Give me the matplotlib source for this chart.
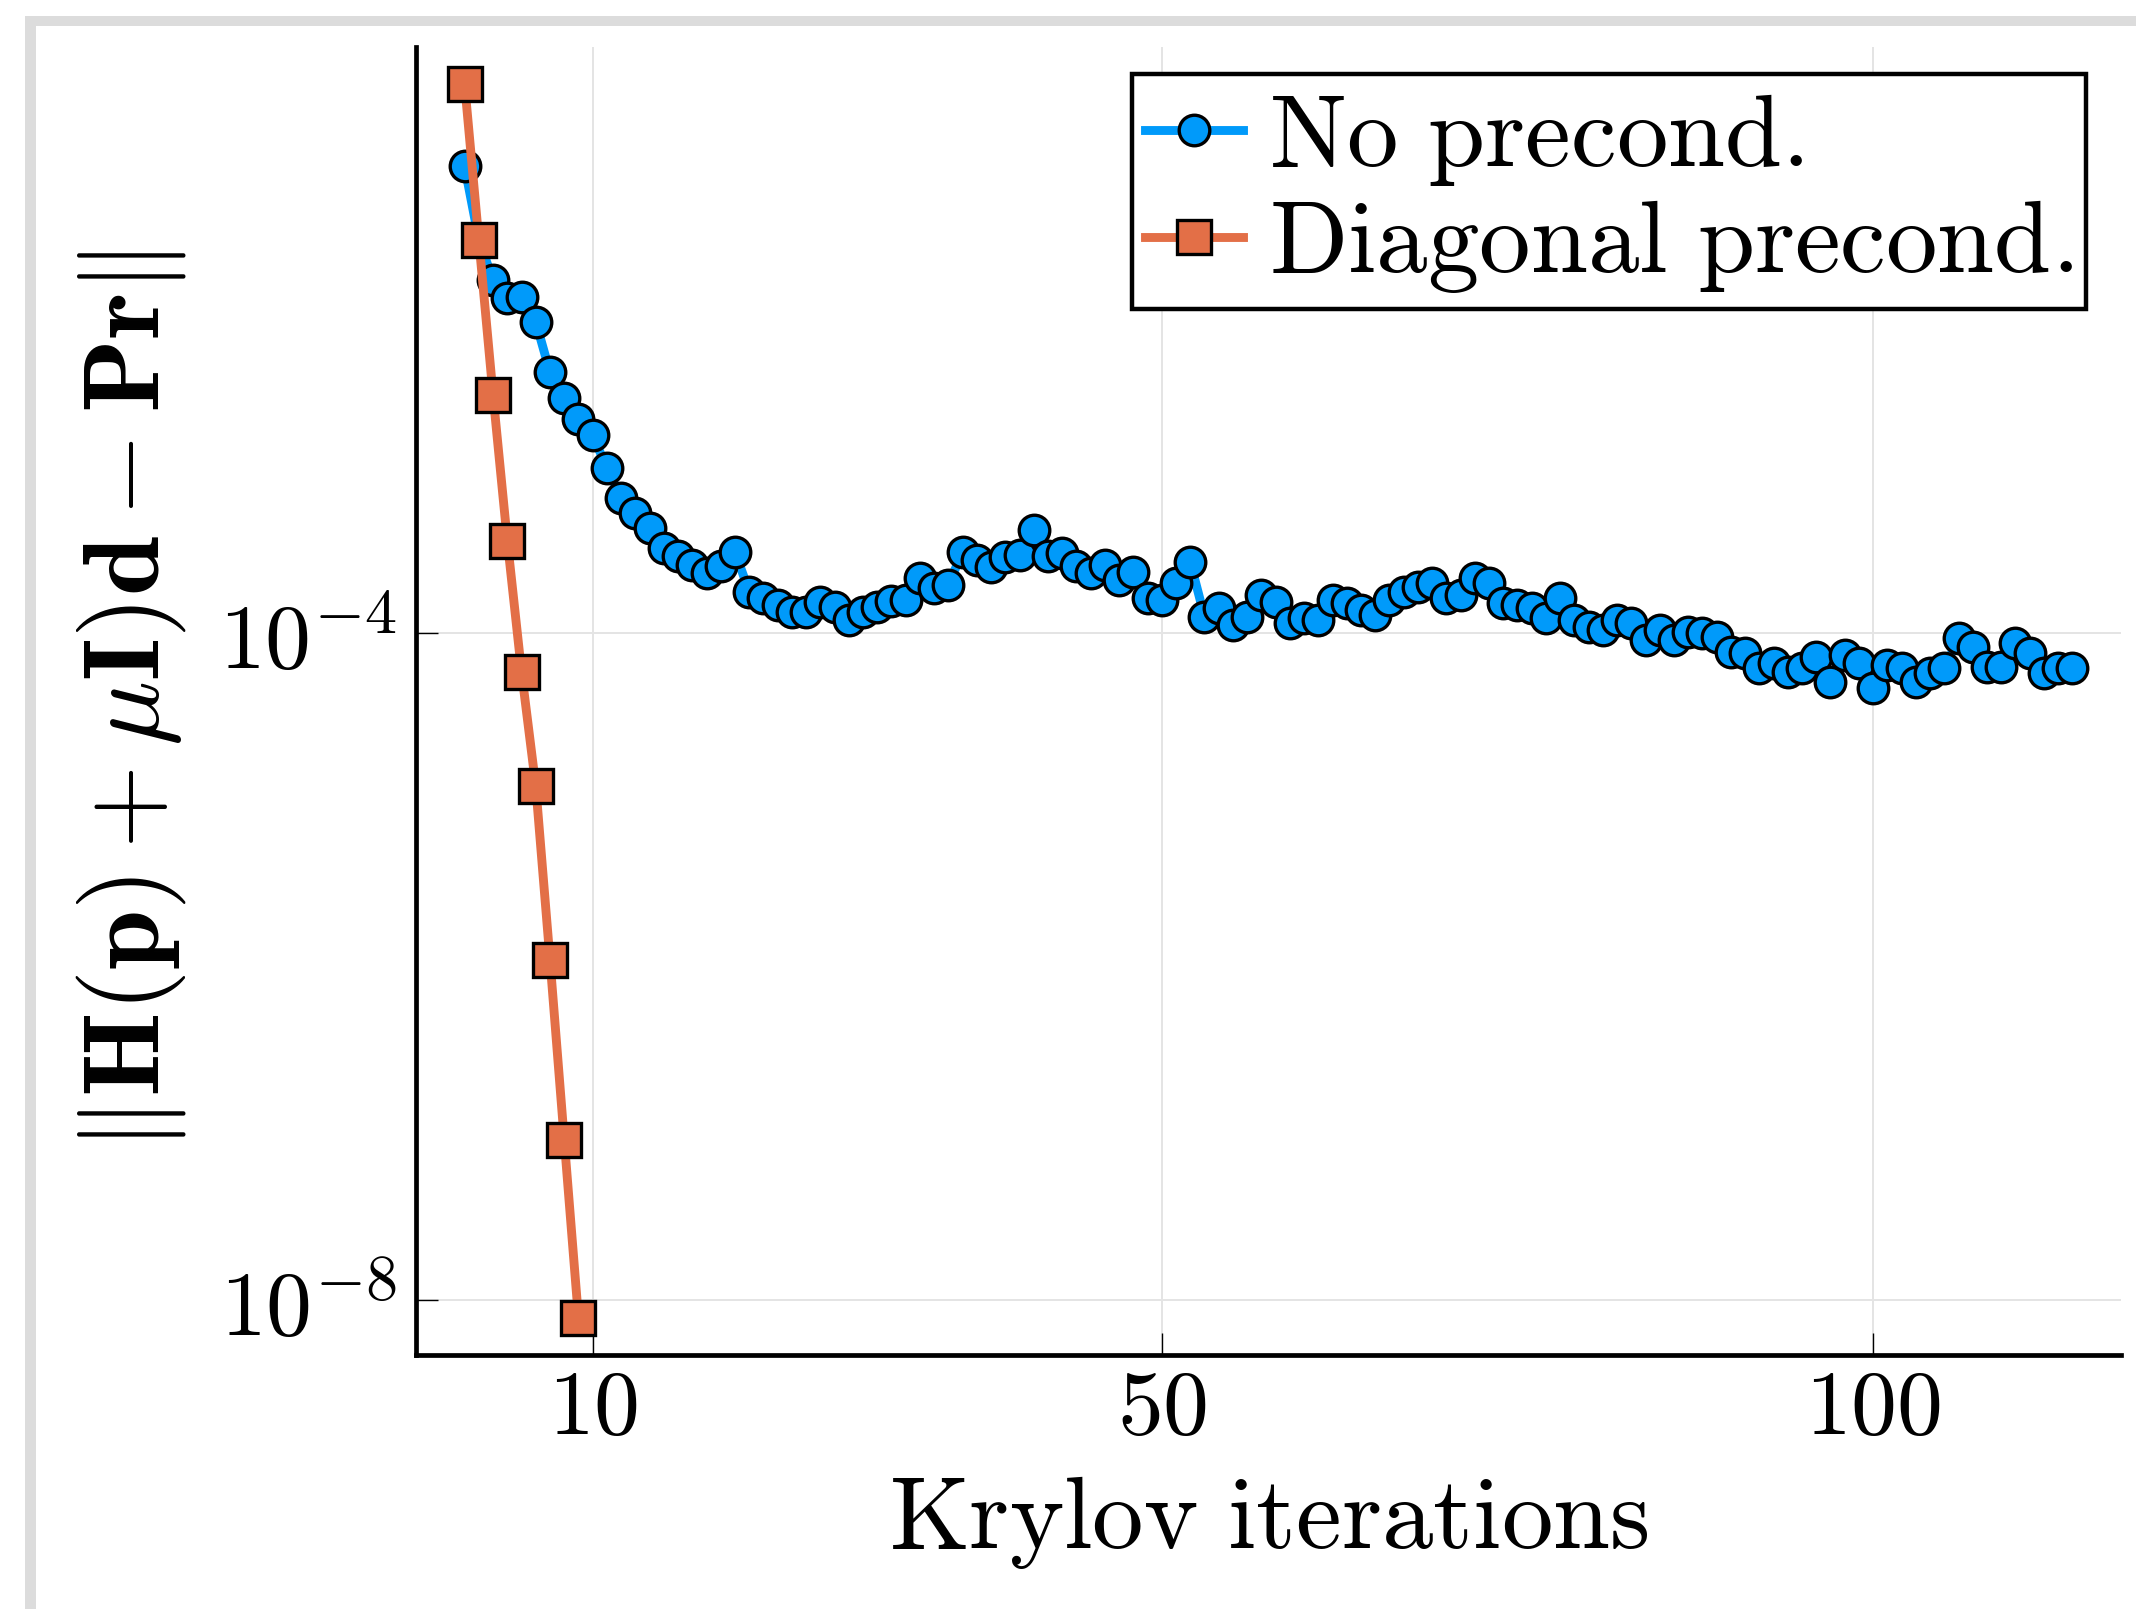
import numpy as np
import matplotlib
matplotlib.use("Agg")
import matplotlib.pyplot as plt
from matplotlib.patches import Rectangle

# residual norms per Krylov iteration, stored as log10 values
no_precond_log10 = [
	-1.198, -1.641, -1.881, -1.991, -1.985, -2.131, -2.435, -2.587, -2.717, -2.813,
	-3.007, -3.187, -3.277, -3.370, -3.490, -3.536, -3.590, -3.640, -3.596, -3.511,
	-3.750, -3.790, -3.830, -3.875, -3.870, -3.810, -3.840, -3.920, -3.870, -3.840,
	-3.804, -3.800, -3.670, -3.730, -3.710, -3.511, -3.560, -3.604, -3.541, -3.530,
	-3.380, -3.536, -3.517, -3.596, -3.640, -3.590, -3.680, -3.631, -3.790, -3.800,
	-3.700, -3.571, -3.900, -3.850, -3.950, -3.900, -3.770, -3.810, -3.940, -3.910,
	-3.920, -3.800, -3.820, -3.860, -3.890, -3.800, -3.750, -3.720, -3.700, -3.790,
	-3.770, -3.670, -3.700, -3.820, -3.830, -3.850, -3.910, -3.790, -3.920, -3.960,
	-3.980, -3.920, -3.940, -4.040, -3.980, -4.040, -3.990, -4.000, -4.020, -4.110,
	-4.120, -4.210, -4.180, -4.230, -4.210, -4.140, -4.290, -4.130, -4.180, -4.330,
	-4.190, -4.210, -4.290, -4.240, -4.210, -4.030, -4.080, -4.200, -4.200, -4.060,
	-4.120, -4.240, -4.210, -4.210,
]
diag_precond_log10 = [-0.705, -1.643, -2.572, -3.444, -4.231, -4.916, -5.959, -7.037, -8.106]

labels = ["No precond.", "Diagonal precond."]
xticks = [10, 50, 100]
yticks = [1e-8, 1e-4]
ytick_labels = [r"$10^{-8}$", r"$10^{-4}$"]

BLUE = "#009AFA"
ORANGE = "#E36F47"

plt.rcParams["mathtext.fontset"] = "cm"

W, H, DPI = 2136, 1609, 200
fig = plt.figure(figsize=(W / DPI, H / DPI), dpi=DPI)

# grey screenshot frame on the left and top
fig.patches.append(Rectangle((24.9 / W, 0), 10.7 / W, 1 - 15.6 / H,
	transform=fig.transFigure, facecolor="#dcdcdc", edgecolor="none"))
fig.patches.append(Rectangle((24.9 / W, 1 - 25.9 / H), 1, 10.3 / H,
	transform=fig.transFigure, facecolor="#dcdcdc", edgecolor="none"))

ax = fig.add_axes([416.4 / W, 1 - 1355 / H, 1704.2 / W, 1308.1 / H])

x_blue = np.arange(1, len(no_precond_log10) + 1)
x_orange = np.arange(1, len(diag_precond_log10) + 1)
y_blue = 10.0 ** np.array(no_precond_log10)
y_orange = 10.0 ** np.array(diag_precond_log10)

ax.plot(x_blue, y_blue, color=BLUE, lw=3.2, marker="o", ms=11,
	mfc=BLUE, mec="black", mew=1.2, label=r"$\mathrm{No\ precond.}$")
ax.plot(x_orange, y_orange, color=ORANGE, lw=3.2, marker="s", ms=12,
	mfc=ORANGE, mec="black", mew=1.2, label=r"$\mathrm{Diagonal\ precond.}$")

ax.set_yscale("log")

# 3 % margins like Plots.jl
xmin, xmax = 1, max(len(no_precond_log10), len(diag_precond_log10))
xpad = 0.03 * (xmax - xmin)
ax.set_xlim(xmin - xpad, xmax + xpad)
lo = min(min(no_precond_log10), min(diag_precond_log10))
hi = max(max(no_precond_log10), max(diag_precond_log10))
ypad = 0.03 * (hi - lo)
ax.set_ylim(10 ** (lo - ypad), 10 ** (hi + ypad))

ax.set_xticks(xticks)
ax.set_xticklabels([f"${t}$" for t in xticks])
ax.set_yticks(yticks)
ax.set_yticklabels(ytick_labels)
ax.yaxis.set_minor_locator(matplotlib.ticker.NullLocator())
ax.tick_params(axis="both", direction="in", length=8, width=0.5, labelsize=33)
ax.tick_params(axis="x", pad=3)
ax.tick_params(axis="y", pad=7)

ax.grid(True, color="#e4e4e4", lw=0.7)
ax.set_axisbelow(True)
for side in ["top", "right"]:
	ax.spines[side].set_visible(False)
for side in ["left", "bottom"]:
	ax.spines[side].set_linewidth(1.7)

ax.set_xlabel(r"$\mathrm{Krylov\ iterations}$", fontsize=37)
ax.xaxis.set_label_coords(0.5, -0.088)
ax.set_ylabel(r"$\|\mathbf{H}(\mathbf{p}) + \mu\mathbf{I})\mathbf{d} - \mathbf{Pr}\|$", fontsize=39)
ax.yaxis.set_label_coords(-0.134, 0.5)

leg = ax.legend(loc="upper right", bbox_to_anchor=(0.9797, 0.9793), borderaxespad=0,
	fontsize=37, fancybox=False, framealpha=1, edgecolor="black",
	handlelength=0.95, handletextpad=0.25, borderpad=0.13, labelspacing=0.05)
leg.get_frame().set_linewidth(1.6)

fig.savefig("out.png", dpi=DPI)
